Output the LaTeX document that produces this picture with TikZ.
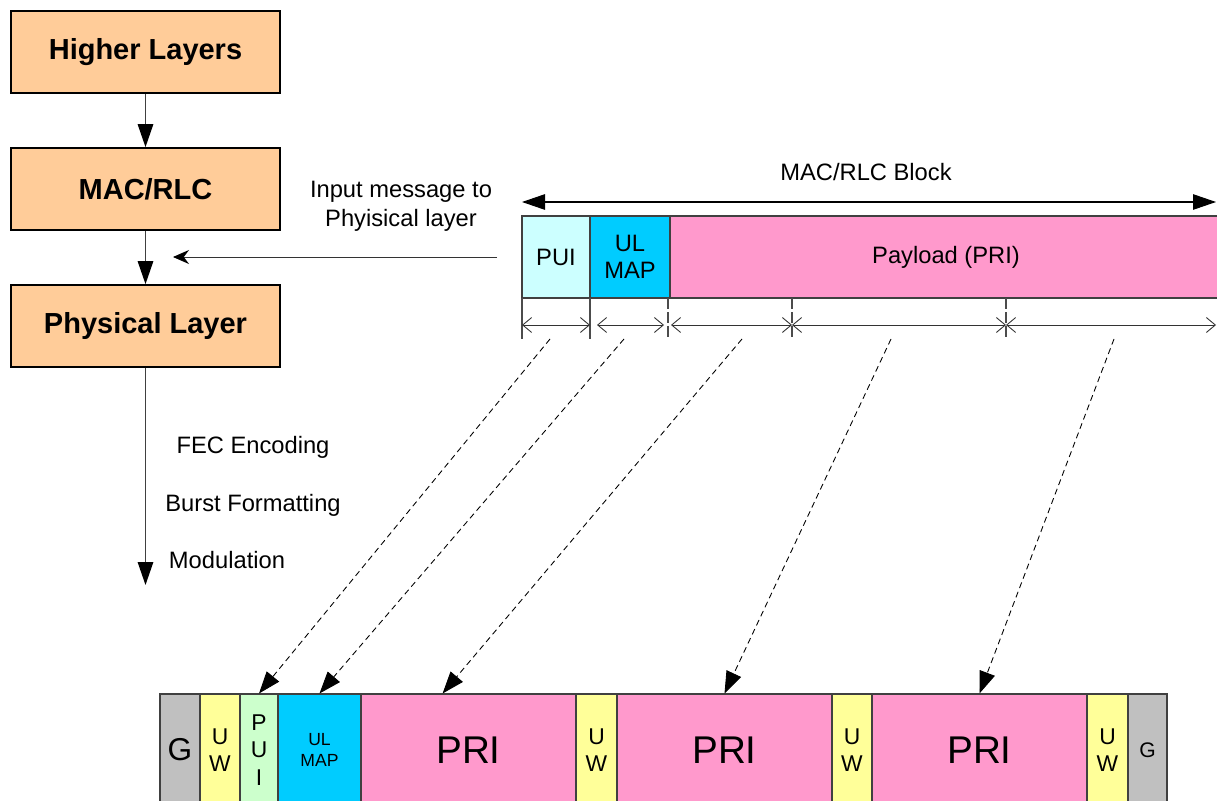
\documentclass[tikz,border=0pt]{standalone}
\usepackage{fontspec}
\setmainfont{Liberation Sans}
\usetikzlibrary{arrows.meta,calc}

\definecolor{peach}{HTML}{FFCC99}
\definecolor{puicol}{HTML}{CCFFFF}
\definecolor{ulcol}{HTML}{00CCFF}
\definecolor{pricol}{HTML}{FF99CC}
\definecolor{uwcol}{HTML}{FFFF99}
\definecolor{puigcol}{HTML}{CCFFCC}
\definecolor{gcol}{HTML}{C0C0C0}

\begin{document}
\begin{tikzpicture}[x=0.02cm, y=-0.02cm]
	\tikzstyle{layer} = [rectangle, draw=black, line width=1pt, fill=peach, minimum width=5.38cm, minimum height=1.64cm, font=\fontsize{16.5}{20}\selectfont\bfseries]
\tikzstyle{field} = [rectangle, draw=black!75, line width=0.6pt, inner sep=0pt, align=center]
\tikzstyle{lbl} = [font=\fontsize{13.5}{16.4}\selectfont, align=center]
\tikzstyle{flow} = [draw=black!75, line width=0.8pt, -{Triangle[length=0.46cm, width=0.31cm, color=black]}]
\tikzstyle{feed} = [draw=black!80, line width=0.5pt, -{Stealth[length=0.32cm, width=0.28cm, color=black]}]
\tikzstyle{span} = [draw=black, line width=0.6pt, {Triangle[length=0.46cm, width=0.31cm]}-{Triangle[length=0.46cm, width=0.31cm]}]
\tikzstyle{dim} = [draw=black!80, line width=0.5pt, {Straight Barb[length=0.18cm, width=0.3cm]}-{Straight Barb[length=0.18cm, width=0.3cm]}]
\tikzstyle{tick} = [draw=black!70, line width=0.6pt]
\tikzstyle{map} = [draw=black, line width=0.5pt, dash pattern=on 3.4pt off 2.3pt, -{Triangle[length=0.44cm, width=0.32cm]}]
\def\topbar{257}
\def\botbar{750}

\useasboundingbox (0,0) rectangle (1217,801);

%layer stack
\foreach \name/\y/\txt in {higher/52/Higher Layers, mac/189/{MAC/RLC}, phy/326/Physical Layer}
  	\node[layer] (\name) at (145.5,\y) {\txt};

\coordinate (phyout) at (145.5,585);
\foreach \from/\to in {higher/mac, mac/phy, phy/phyout}
	\draw[flow] (\from) -- (\to);

\foreach \name/\x/\y/\txt in {fec/253/447/FEC Encoding, burst/253/505/Burst Formatting, mod/227/560/Modulation}
	\node[lbl] (\name) at (\x,\y) {\txt};

%input message
\coordinate (inmsg) at (497,\topbar);
\coordinate (injoin) at (173,\topbar);
\draw[feed] (inmsg) -- (injoin);
\node[lbl] (inlabel) at (401,206) {Input message to\\Phyisical layer};

%mac/rlc block
\coordinate (blk_l) at (522,202);
\coordinate (blk_r) at (1216,202);
\draw[span] (blk_l) -- (blk_r);
\node[lbl] (blklabel) at (866,172) {MAC/RLC Block};

\foreach \name/\l/\r/\col/\txt in {pui/522/590/puicol/PUI, ulmap/590/670/ulcol/{UL\\MAP}, payload/670/1222/pricol/Payload (PRI)}
  	\node[field, fill=\col, minimum width={(\r-\l)*0.02cm}, minimum height=1.64cm, font=\fontsize{13.5}{15.3}\selectfont] (\name) at ({(\l+\r)/2},\topbar) {\txt};

%field lengths
\foreach \x in {522, 590}
	\draw[tick] (\x,298) -- (\x,339);
\foreach \x in {668, 792, 1006}
	\draw[tick, dash pattern=on 0.22cm off 0.06cm] (\x,298) -- (\x,339);

\foreach \name/\x in {t0/522, t1/590, t1b/597, t2/664, t2b/671, t3/792, t4/1006, t5/1216}
	\coordinate (\name) at (\x,325);
\foreach \from/\to in {t0/t1, t1b/t2, t2b/t3, t3/t4, t4/t5}
	\draw[dim] (\from) -- (\to);

%burst
\foreach \name/\l/\r/\col/\fs/\bs/\txt in {g1/160/200/gcol/18/20/G, uw1/200/240/uwcol/13/15.3/{U\\W}, pui2/240/278/puigcol/13/15.6/{P\\U\\I}, ulmap2/278/361/ulcol/10/12/{UL\\MAP}, pri1/361/576/pricol/22/26/PRI, uw2/576/617/uwcol/13/15.3/{U\\W}, pri2/617/832/pricol/22/26/PRI, uw3/832/872/uwcol/13/15.3/{U\\W}, pri3/872/1087/pricol/22/26/PRI, uw4/1087/1128/uwcol/13/15.3/{U\\W}, g2/1128/1167/gcol/12/14/G}
  	\node[field, fill=\col, minimum width={(\r-\l)*0.02cm}, minimum height=2.24cm, font=\fontsize{\fs}{\bs}\selectfont] (\name) at ({(\l+\r)/2},\botbar) {\txt};

\foreach \name/\x in {s1/550, s2/624, s3/742, s4/891, s5/1114}
	\coordinate (\name) at (\x,339);
\draw[map] (s1) -- (pui2.north);
\draw[map] (s2) -- (ulmap2.north);
\draw[map] (s3) -- ($(pri1.north west)!0.38!(pri1.north east)$);
\draw[map] (s4) -- (pri2.north);
\draw[map] (s5) -- (pri3.north);
\end{tikzpicture}
\end{document}
